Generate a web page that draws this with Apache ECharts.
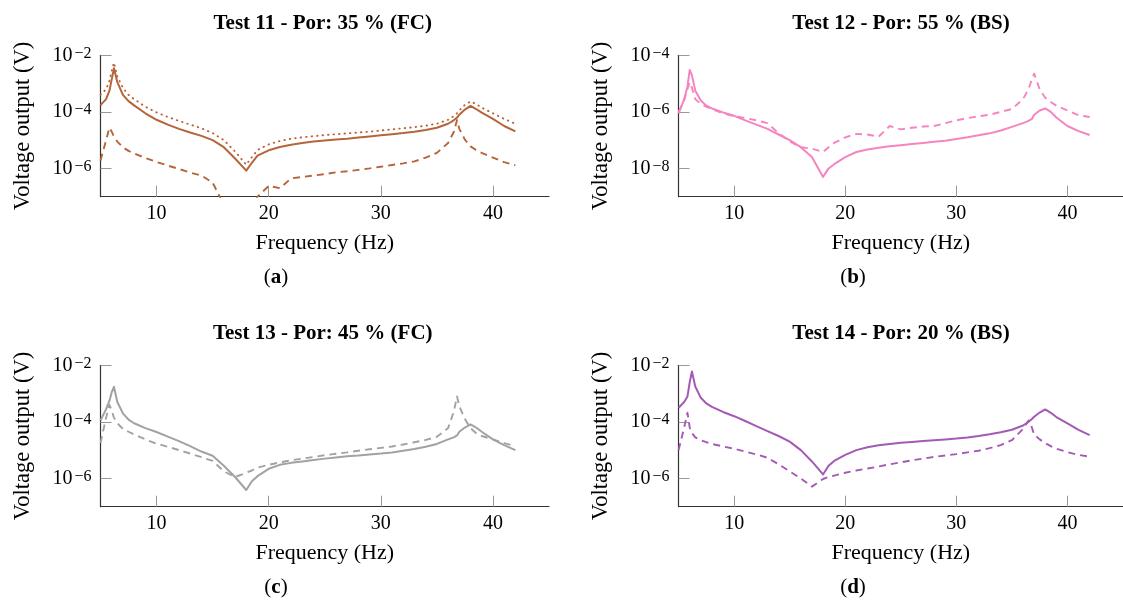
<!DOCTYPE html>
<html><head><meta charset="utf-8">
<script src="https://cdn.jsdelivr.net/npm/echarts@6/dist/echarts.min.js"></script>
<style>html,body{margin:0;padding:0;background:#fff}#c{width:1123px;height:601px}</style>
</head><body><div id="c"></div>
<script>
// ---------- data (stored as log10 of voltage) ----------
const freq = [5,5.5,5.8,6,6.2,6.5,7,7.5,8,9,10,11,12,13,14,15,16,17,18,18.5,19,20,21,22,23,24,25,26,27,28,29,30,31,32,33,34,35,36,36.5,36.8,37,37.5,38,38.5,39,40,41,42];

const a_solid_log10  = [-3.76,-3.55,-3.25,-2.85,-2.46,-2.95,-3.4,-3.62,-3.77,-4.05,-4.28,-4.45,-4.6,-4.73,-4.85,-5.0,-5.25,-5.65,-6.08,-5.8,-5.55,-5.36,-5.24,-5.16,-5.1,-5.05,-5.01,-4.98,-4.95,-4.91,-4.87,-4.83,-4.79,-4.75,-4.7,-4.64,-4.56,-4.42,-4.3,-4.2,-4.1,-3.92,-3.79,-3.9,-4.03,-4.25,-4.5,-4.69];
const a_dotted_log10 = [-3.4,-3.2,-2.9,-2.55,-2.26,-2.75,-3.15,-3.4,-3.55,-3.82,-4.02,-4.18,-4.32,-4.45,-4.58,-4.75,-5.0,-5.4,-5.87,-5.6,-5.35,-5.15,-5.03,-4.95,-4.9,-4.86,-4.82,-4.79,-4.76,-4.73,-4.7,-4.66,-4.62,-4.58,-4.54,-4.49,-4.42,-4.28,-4.15,-4.05,-3.95,-3.75,-3.63,-3.72,-3.85,-4.05,-4.25,-4.42];
const a_dashed_log10 = [-5.72,-5.0,-4.56,-4.7,-4.88,-5.05,-5.25,-5.38,-5.47,-5.63,-5.77,-5.9,-6.02,-6.15,-6.25,-6.5,-7.3,-7.6,-7.8,-7.5,-7.0,-6.62,-6.7,-6.35,-6.3,-6.25,-6.2,-6.14,-6.1,-6.05,-6.0,-5.94,-5.88,-5.82,-5.75,-5.62,-5.45,-5.1,-4.72,-4.29,-4.6,-4.98,-5.22,-5.35,-5.45,-5.62,-5.78,-5.89];

const b_solid_log10  = [-6.05,-5.55,-5.1,-4.52,-4.7,-5.25,-5.6,-5.78,-5.88,-6.02,-6.14,-6.3,-6.45,-6.6,-6.8,-7.0,-7.25,-7.6,-8.3,-8.0,-7.85,-7.6,-7.42,-7.33,-7.27,-7.22,-7.18,-7.14,-7.1,-7.06,-7.02,-6.96,-6.9,-6.83,-6.76,-6.66,-6.53,-6.4,-6.32,-6.25,-6.1,-5.95,-5.88,-6.0,-6.2,-6.5,-6.68,-6.82];
const b_dashed_log10 = [-6.0,-5.6,-5.2,-4.95,-5.15,-5.55,-5.72,-5.82,-5.9,-6.05,-6.15,-6.22,-6.3,-6.4,-6.75,-7.05,-7.25,-7.3,-7.42,-7.25,-7.1,-6.9,-6.78,-6.8,-6.88,-6.5,-6.62,-6.56,-6.52,-6.5,-6.4,-6.3,-6.22,-6.16,-6.1,-6.0,-5.9,-5.55,-5.2,-4.85,-4.65,-5.2,-5.5,-5.65,-5.78,-5.95,-6.12,-6.18];

const c_solid_log10  = [-3.95,-3.55,-3.25,-2.95,-2.76,-3.3,-3.7,-3.92,-4.05,-4.22,-4.36,-4.52,-4.68,-4.86,-5.05,-5.2,-5.55,-5.95,-6.41,-6.1,-5.92,-5.66,-5.52,-5.45,-5.4,-5.35,-5.3,-5.26,-5.22,-5.19,-5.15,-5.12,-5.08,-5.02,-4.96,-4.88,-4.78,-4.62,-4.55,-4.48,-4.35,-4.2,-4.09,-4.2,-4.35,-4.62,-4.82,-5.0];
const c_dashed_log10 = [-4.75,-3.85,-3.4,-3.6,-3.85,-4.05,-4.25,-4.35,-4.45,-4.62,-4.77,-4.88,-5.0,-5.12,-5.25,-5.38,-5.75,-5.95,-5.8,-5.72,-5.62,-5.52,-5.43,-5.36,-5.3,-5.24,-5.18,-5.13,-5.08,-5.02,-4.97,-4.92,-4.87,-4.8,-4.72,-4.64,-4.53,-4.22,-3.65,-3.1,-3.45,-3.9,-4.22,-4.4,-4.5,-4.62,-4.75,-4.86];

const d_solid_log10  = [-3.5,-3.3,-3.1,-2.6,-2.22,-2.75,-3.15,-3.35,-3.47,-3.65,-3.8,-3.97,-4.15,-4.33,-4.5,-4.7,-5.0,-5.4,-5.86,-5.55,-5.38,-5.17,-5.0,-4.9,-4.83,-4.78,-4.74,-4.71,-4.68,-4.65,-4.62,-4.59,-4.55,-4.5,-4.44,-4.37,-4.28,-4.13,-4.0,-3.9,-3.82,-3.67,-3.56,-3.68,-3.83,-4.05,-4.28,-4.47];
const d_dashed_log10 = [-5.0,-4.2,-3.68,-4.2,-4.4,-4.55,-4.65,-4.72,-4.78,-4.87,-4.95,-5.05,-5.15,-5.27,-5.5,-5.75,-6.0,-6.29,-6.02,-5.95,-5.9,-5.8,-5.72,-5.65,-5.58,-5.5,-5.43,-5.36,-5.3,-5.24,-5.19,-5.14,-5.08,-5.02,-4.93,-4.82,-4.65,-4.25,-3.95,-4.2,-4.45,-4.62,-4.75,-4.86,-4.95,-5.07,-5.17,-5.23];

const xTickValues = [10, 20, 30, 40];
const yTicksACD = [1e-6, 1e-4, 1e-2];
const yTicksB = [1e-8, 1e-6, 1e-4];
const panelTitles = ['Test 11 - Por: 35 % (FC)', 'Test 12 - Por: 55 % (BS)', 'Test 13 - Por: 45 % (FC)', 'Test 14 - Por: 20 % (BS)'];
const panelLetters = ['a', 'b', 'c', 'd'];
const xAxisTitle = 'Frequency (Hz)';
const yAxisTitle = 'Voltage output (V)';

// ---------- styling / layout ----------
const FONT = 'Liberation Serif';
const colors = ['#B5653A', '#F684C0', '#A2A2A2', '#A45AB5'];
const grids = [
  {left: 100.5, top: 55.3, width: 448.5, height: 141.4},
  {left: 678.6, top: 55.3, width: 448.8, height: 141.4},
  {left: 100.5, top: 365.3, width: 448.5, height: 141.4},
  {left: 678.6, top: 365.3, width: 448.8, height: 141.4}
];
const yRanges = [[1e-7, 1e-2], [1e-9, 1e-4], [1e-7, 1e-2], [1e-7, 1e-2]];
const yTickSets = [yTicksACD, yTicksB, yTicksACD, yTicksACD];

const toPairs = (arr) => freq.map((f, k) => [f, Math.pow(10, arr[k])]);
const SOLID = 'solid', DASH = [7, 5], DOT = [0.5, 5];
const seriesSpec = [
  {panel: 0, data: a_solid_log10, type: SOLID},
  {panel: 0, data: a_dotted_log10, type: DOT},
  {panel: 0, data: a_dashed_log10, type: DASH},
  {panel: 1, data: b_solid_log10, type: SOLID},
  {panel: 1, data: b_dashed_log10, type: DASH},
  {panel: 2, data: c_solid_log10, type: SOLID},
  {panel: 2, data: c_dashed_log10, type: DASH},
  {panel: 3, data: d_solid_log10, type: SOLID},
  {panel: 3, data: d_dashed_log10, type: DASH}
];

const axisLineStyle = {color: '#333', width: 1.2};
const tickLineStyle = {color: '#999', width: 1};

const supFormatter = (v) => {
  const n = Math.round(Math.log10(v));
  return '{b|10}{s|\u2212' + Math.abs(n) + '}';
};

const option = {
  animation: false,
  backgroundColor: '#fff',
  grid: grids.map(g => Object.assign({containLabel: false}, g)),
  xAxis: grids.map((g, i) => ({
    type: 'value', gridIndex: i, min: 5, max: 45,
    axisLine: {show: true, lineStyle: axisLineStyle},
    axisTick: {show: true, inside: true, length: 11, customValues: xTickValues, lineStyle: tickLineStyle},
    axisLabel: {customValues: xTickValues, margin: 7, color: '#000', fontFamily: FONT, fontSize: 20},
    splitLine: {show: false},
    name: xAxisTitle, nameLocation: 'middle', nameGap: 36,
    nameTextStyle: {color: '#000', fontFamily: FONT, fontSize: 22}
  })),
  yAxis: grids.map((g, i) => ({
    type: 'log', logBase: 10, gridIndex: i, min: yRanges[i][0], max: yRanges[i][1],
    axisLine: {show: true, lineStyle: axisLineStyle},
    axisTick: {show: true, inside: true, length: 11, customValues: yTickSets[i], lineStyle: tickLineStyle},
    axisLabel: {
      customValues: yTickSets[i], margin: 9, formatter: supFormatter,
      rich: {
        b: {fontFamily: FONT, fontSize: 20, lineHeight: 20, padding: [6, 0, 0, 0], verticalAlign: 'bottom', color: '#000'},
        s: {fontFamily: FONT, fontSize: 16, lineHeight: 20, verticalAlign: 'top', color: '#000', padding: [0, 0, 0, 2]}
      }
    },
    splitLine: {show: false},
    name: yAxisTitle, nameLocation: 'middle', nameGap: 66,
    nameTextStyle: {color: '#000', fontFamily: FONT, fontSize: 22.5}
  })),
  series: seriesSpec.map(s => ({
    type: 'line', xAxisIndex: s.panel, yAxisIndex: s.panel,
    data: toPairs(s.data), showSymbol: false, symbol: 'none', clip: true, silent: true,
    lineStyle: {color: colors[s.panel], width: s.type === SOLID ? 2 : 1.9, type: s.type, cap: s.type === DOT ? 'round' : 'butt', join: 'round'}
  })),
  graphic: [].concat(
    grids.map((g, i) => ({
      type: 'text', silent: true,
      style: {text: panelTitles[i], x: g.left + g.width / 2 - 2, y: g.top - 32, align: 'center', verticalAlign: 'middle',
        fontFamily: FONT, fontWeight: 'bold', fontSize: 21, fill: '#000'}
    })),
    grids.map((g, i) => ({
      type: 'text', silent: true,
      style: {text: '({l|' + panelLetters[i] + '})', x: (i % 2 === 0 ? 276 : 853), y: g.top + 222, align: 'center', verticalAlign: 'middle',
        fontFamily: FONT, fontSize: 21, fill: '#000',
        rich: {l: {fontFamily: FONT, fontSize: 21, fontWeight: 'bold', fill: '#000'}}}
    }))
  )
};

const chart = echarts.init(document.getElementById('c'), null, {renderer: 'canvas'});
chart.setOption(option);
</script>
</body></html>
